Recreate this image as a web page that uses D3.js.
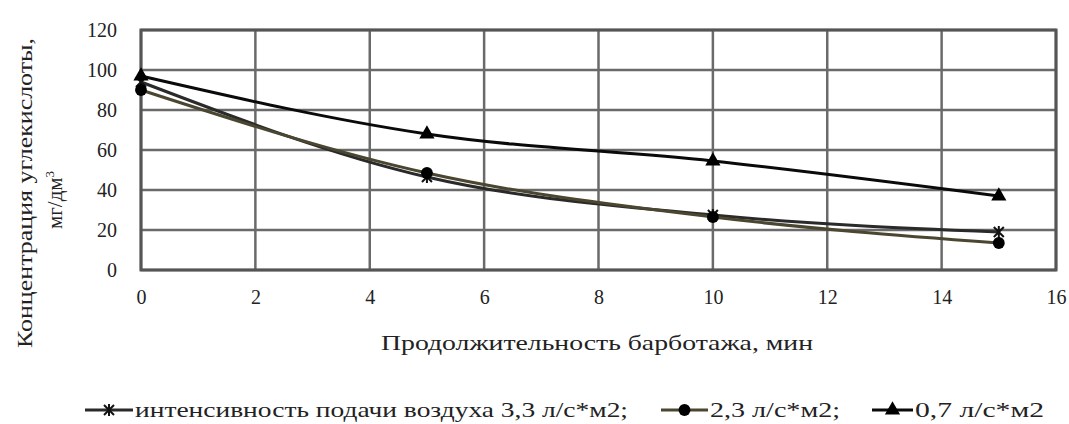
<!DOCTYPE html>
<html>
<head>
<meta charset="utf-8">
<script src="https://cdn.jsdelivr.net/npm/d3@7"></script>
<style>
  body { margin: 0; background: #fff; }
  text { font-family: "Liberation Serif", "DejaVu Serif", serif; fill: #222; }
</style>
</head>
<body>
<div id="chart-area"></div>
<script>
var xValues = [0, 5, 10, 15];
var s33 = [94, 46.5, 27.5, 19];
var s23 = [90, 48.5, 26.5, 13.5];
var s07 = [97, 68, 54.5, 37];
var xTicks = [0, 2, 4, 6, 8, 10, 12, 14, 16];
var yTicks = [0, 20, 40, 60, 80, 100, 120];
var seriesNames = ["интенсивность подачи воздуха 3,3 л/с*м2;", "2,3 л/с*м2;", "0,7 л/с*м2"];

var margin = {left: 141, right: 13, top: 30, bottom: 154};
var width = 1069 - margin.left - margin.right;
var height = 424 - margin.top - margin.bottom;

var xScale = d3.scaleLinear().domain([0, 16]).range([0, width]);
var yScale = d3.scaleLinear().domain([0, 120]).range([height, 0]);

var svg = d3.select("#chart-area")
  .append("svg")
  .attr("width", 1069)
  .attr("height", 424);

var g = svg.append("g")
  .attr("transform", "translate(" + margin.left + "," + margin.top + ")");

// grid
g.selectAll(".hgrid").data(yTicks).enter()
  .append("line")
  .attr("x1", 0).attr("x2", width)
  .attr("y1", (d) => yScale(d)).attr("y2", (d) => yScale(d))
  .attr("stroke", "#6a6a6a").attr("stroke-width", 2.5);

g.selectAll(".vgrid").data(xTicks).enter()
  .append("line")
  .attr("y1", 0).attr("y2", height)
  .attr("x1", (d) => xScale(d)).attr("x2", (d) => xScale(d))
  .attr("stroke", "#6a6a6a").attr("stroke-width", 2.5);

g.append("rect")
  .attr("width", width).attr("height", height)
  .attr("fill", "none").attr("stroke", "#555").attr("stroke-width", 3);

// axes (labels only)
var xAxis = d3.axisBottom(xScale).tickValues(xTicks).tickSize(0).tickPadding(20);
g.append("g")
  .attr("transform", "translate(0," + height + ")")
  .call(xAxis)
  .call((a) => a.select(".domain").remove())
  .selectAll("text")
  .attr("font-size", "20px")
  .attr("font-family", "Liberation Serif")
  .attr("fill", "#1a1a1a");

var yAxis = d3.axisLeft(yScale).tickValues(yTicks).tickSize(0).tickPadding(24);
g.append("g")
  .call(yAxis)
  .call((a) => a.select(".domain").remove())
  .selectAll("text")
  .attr("font-size", "20px")
  .attr("font-family", "Liberation Serif")
  .attr("fill", "#1a1a1a");

// lines
var line = d3.line()
  .x((d, i) => xScale(xValues[i]))
  .y((d) => yScale(d))
  .curve(d3.curveMonotoneX);

var series = [
  {values: s33, color: "#2a2a2a", marker: "cross"},
  {values: s23, color: "#4a4630", marker: "circle"},
  {values: s07, color: "#0a0a0a", marker: "triangle"}
];

series.forEach((s) => {
  g.append("path")
    .datum(s.values)
    .attr("d", line)
    .attr("fill", "none")
    .attr("stroke", s.color)
    .attr("stroke-width", 3);
});

function drawMarker(sel, type, x, y) {
  if (type === "cross") {
    sel.append("path")
      .attr("d", "M" + (x - 5) + "," + (y - 5) + "L" + (x + 5) + "," + (y + 5) +
        "M" + (x + 5) + "," + (y - 5) + "L" + (x - 5) + "," + (y + 5) +
        "M" + x + "," + (y - 6) + "L" + x + "," + (y + 6))
      .attr("stroke", "#111").attr("stroke-width", 2).attr("fill", "none");
  } else {
    var sym = type === "circle" ? d3.symbolCircle : d3.symbolTriangle;
    sel.append("path")
      .attr("d", d3.symbol().type(sym).size(type === "circle" ? 110 : 100)())
      .attr("transform", "translate(" + x + "," + y + ")")
      .attr("fill", "#000");
  }
}

series.forEach((s) => {
  s.values.forEach((v, i) => {
    drawMarker(g, s.marker, xScale(xValues[i]), yScale(v));
  });
});

// axis titles
svg.append("text")
  .attr("x", 597).attr("y", 350)
  .attr("text-anchor", "middle")
  .attr("font-size", "21px")
  .attr("textLength", 432).attr("lengthAdjust", "spacingAndGlyphs")
  .text("Продолжительность барботажа, мин");

svg.append("text")
  .attr("transform", "translate(32,193) rotate(-90)")
  .attr("text-anchor", "middle")
  .attr("font-size", "21px")
  .attr("textLength", 310).attr("lengthAdjust", "spacingAndGlyphs")
  .text("Концентрация углекислоты,");

var yl2 = svg.append("text")
  .attr("transform", "translate(62,200) rotate(-90)")
  .attr("text-anchor", "middle")
  .attr("font-size", "21px");
yl2.append("tspan").text("мг/дм");
yl2.append("tspan").attr("font-size", "13px").attr("dy", "-8").text("3");

// legend
var legendItems = [
  {x: 85, lineEnd: 133, tx: 135, tw: 493},
  {x: 661, lineEnd: 708, tx: 710, tw: 130},
  {x: 872, lineEnd: 913, tx: 915, tw: 129}
];
var ly = 410;
legendItems.forEach((it, i) => {
  svg.append("line")
    .attr("x1", it.x).attr("x2", it.lineEnd)
    .attr("y1", ly).attr("y2", ly)
    .attr("stroke", series[i].color).attr("stroke-width", 3);
  drawMarker(svg, series[i].marker, (it.x + it.lineEnd) / 2, ly);
  svg.append("text")
    .attr("x", it.tx).attr("y", ly + 7)
    .attr("font-size", "21px")
    .attr("textLength", it.tw).attr("lengthAdjust", "spacingAndGlyphs")
    .text(seriesNames[i]);
});
</script>
</body>
</html>
